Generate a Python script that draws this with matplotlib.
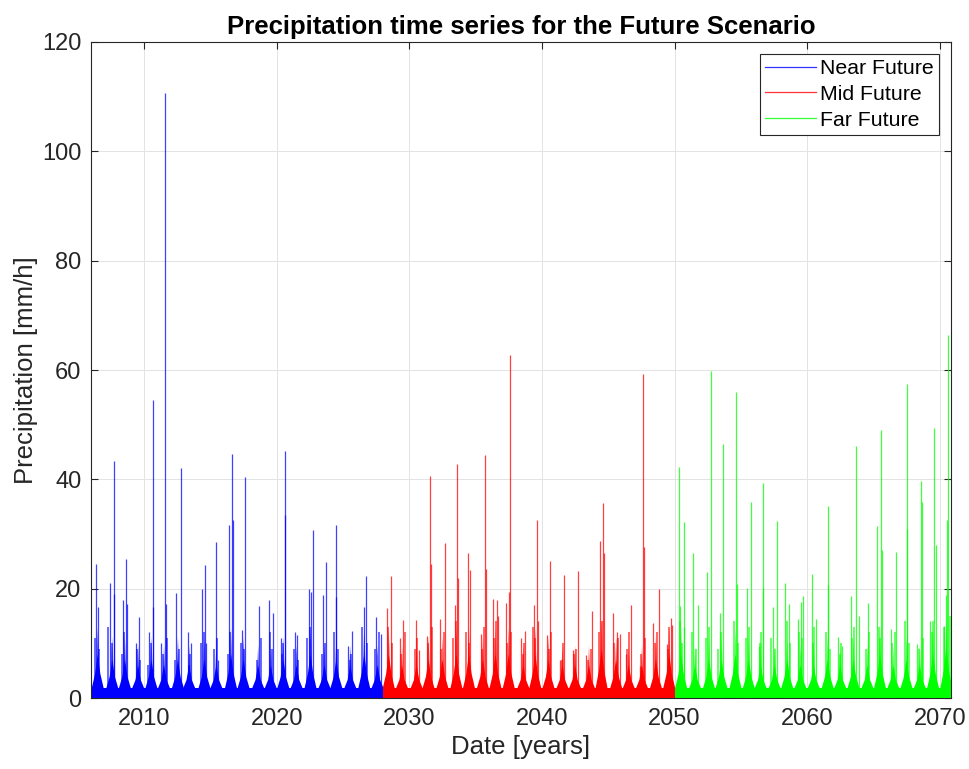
import numpy as np
import matplotlib
matplotlib.use("Agg")
import matplotlib.pyplot as plt

plt.rcParams["font.family"] = ["Liberation Sans", "DejaVu Sans"]

# period boundaries (decimal years)
near_span = (2006.0, 2028.0)
mid_span = (2028.0, 2050.0)
far_span = (2050.0, 2070.85)
base_level = 1.8   # persistent drizzle floor, mm/h

# storm peaks: (decimal year, mm/h)
near_t = [2006.4, 2006.5, 2007.4, 2007.7, 2007.75, 2008.4, 2008.6, 2008.7, 2009.4, 2009.6,
          2010.4, 2010.65, 2010.7, 2011.3, 2011.6, 2011.65, 2012.4, 2012.8, 2013.3, 2013.5,
          2014.4, 2014.6, 2014.7, 2015.4, 2015.6, 2016.4, 2016.65, 2016.7, 2017.4, 2017.6,
          2018.7, 2019.4, 2019.75, 2020.3, 2020.6, 2020.65, 2021.4, 2021.55, 2022.4, 2022.6,
          2022.7, 2023.5, 2023.75, 2024.45, 2024.5, 2025.4, 2025.7, 2026.55, 2026.7, 2027.5,
          2027.85]
near_p = [24.6, 16.7, 21.0, 43.4, 19.0, 17.9, 25.4, 17.2, 10.0, 14.8,
          12.0, 54.5, 16.7, 10.0, 110.7, 17.2, 19.2, 42.0, 12.0, 10.0,
          20.0, 24.4, 10.0, 28.6, 7.0, 31.7, 44.7, 32.5, 12.5, 40.5,
          16.8, 17.9, 15.5, 11.0, 45.2, 33.5, 12.0, 11.5, 20.0, 19.4,
          30.8, 18.8, 24.8, 18.4, 31.7, 9.5, 12.3, 16.7, 22.4, 14.8,
          11.7]

mid_t = [2028.3, 2028.6, 2029.3, 2029.55, 2030.5, 2030.7, 2031.3, 2031.55, 2031.6, 2032.3,
         2032.7, 2033.45, 2033.6, 2033.65, 2034.4, 2034.6, 2035.4, 2035.7, 2035.75, 2036.3,
         2036.6, 2036.7, 2037.3, 2037.6, 2037.55, 2038.45, 2038.75, 2039.4, 2039.6, 2039.7,
         2040.4, 2040.6, 2041.4, 2041.7, 2042.35, 2042.7, 2043.3, 2043.8, 2044.4, 2044.6,
         2044.7, 2045.35, 2045.65, 2045.9, 2046.35, 2046.7, 2047.4, 2047.65, 2047.7, 2048.4,
         2048.8, 2049.4, 2049.7, 2049.8]
mid_p = [16.4, 22.4, 11.0, 14.2, 14.2, 8.7, 11.3, 40.6, 24.5, 14.5,
         28.3, 17.0, 42.8, 22.0, 26.6, 23.5, 11.8, 44.4, 23.6, 18.2,
         18.0, 15.0, 17.3, 62.8, 19.4, 11.0, 12.3, 17.1, 32.6, 14.0,
         11.5, 25.1, 6.9, 22.5, 8.7, 23.3, 7.8, 15.9, 28.8, 35.7,
         26.5, 15.6, 12.1, 11.8, 8.1, 17.1, 5.8, 59.3, 27.7, 13.7,
         19.9, 9.9, 14.7, 13.3]

far_t = [2050.35, 2050.4, 2050.7, 2050.75, 2051.4, 2051.75, 2052.45, 2052.75, 2053.4, 2053.65,
         2054.6, 2054.7, 2055.5, 2055.75, 2056.35, 2056.65, 2056.7, 2057.4, 2057.7, 2058.35,
         2058.6, 2059.3, 2059.55, 2059.7, 2060.35, 2060.65, 2061.55, 2061.6, 2062.35, 2062.6,
         2063.3, 2063.65, 2063.9, 2064.6, 2065.3, 2065.6, 2065.65, 2066.3, 2066.7, 2067.5,
         2067.55, 2068.3, 2068.6, 2068.65, 2069.3, 2069.6, 2069.75, 2070.3, 2070.45, 2070.55,
         2070.65]
far_p = [42.3, 16.9, 32.2, 12.9, 26.5, 17.0, 23.0, 59.9, 15.6, 46.4,
         56.0, 20.9, 20.2, 35.9, 9.6, 39.4, 20.2, 16.7, 32.4, 21.0,
         17.2, 14.5, 17.5, 18.6, 22.6, 14.5, 35.2, 20.6, 11.2, 9.5,
         18.7, 46.1, 15.0, 17.3, 31.5, 49.1, 27.0, 12.7, 26.7, 57.5,
         31.0, 9.8, 39.7, 35.8, 14.1, 49.4, 27.9, 13.1, 18.8, 32.5,
         66.4]

# smaller showers inside each wet season
near_minor_t = [2006.3, 2006.6, 2007.3, 2007.55, 2008.3, 2008.5, 2009.45, 2009.7, 2010.3, 2010.55,
                2011.4, 2011.75, 2012.3, 2012.6, 2013.35, 2013.45, 2014.3, 2014.5, 2015.3, 2015.5,
                2016.3, 2016.5, 2017.3, 2017.5, 2018.5, 2018.8, 2019.5, 2019.65, 2020.4, 2020.5,
                2021.3, 2021.6, 2022.3, 2022.5, 2023.4, 2023.65, 2024.35, 2024.6, 2025.5, 2025.6,
                2026.45, 2026.8, 2027.4, 2027.7]
near_minor_p = [11, 9, 13, 10, 8, 12, 9, 7, 6, 10,
                8, 11, 7, 9, 6, 8, 10, 12, 9, 11,
                8, 12, 10, 9, 7, 11, 12, 9, 8, 10,
                9, 7, 11, 13, 8, 10, 12, 9, 7, 8,
                13, 10, 9, 12]
mid_minor_t = [2028.4, 2028.7, 2029.4, 2029.65, 2030.4, 2030.6, 2031.4, 2031.7, 2032.4, 2032.6,
               2033.3, 2033.5, 2034.3, 2034.5, 2035.5, 2035.6, 2036.4, 2036.5, 2037.4, 2037.7,
               2038.55, 2038.65, 2039.3, 2039.5, 2040.5, 2040.7, 2041.5, 2041.6, 2042.45, 2042.6,
               2043.45, 2043.7, 2044.3, 2044.5, 2045.45, 2045.75, 2046.45, 2046.6, 2047.5, 2047.8,
               2048.5, 2048.7, 2049.5, 2049.6]
mid_minor_p = [13, 10, 8, 12, 9, 11, 10, 13, 9, 12,
               11, 14, 12, 10, 9, 13, 11, 14, 10, 12,
               8, 10, 13, 11, 9, 12, 7, 10, 8, 9,
               7, 9, 12, 14, 10, 11, 9, 12, 8, 11,
               10, 12, 9, 13]
far_minor_t = [2050.45, 2050.6, 2051.3, 2051.6, 2052.35, 2052.6, 2053.3, 2053.5, 2054.45, 2054.8,
               2055.4, 2055.6, 2056.45, 2056.55, 2057.3, 2057.55, 2058.45, 2058.7, 2059.4, 2059.6,
               2060.45, 2060.55, 2061.4, 2061.7, 2062.45, 2062.55, 2063.4, 2063.55, 2064.45, 2064.7,
               2065.4, 2065.5, 2066.4, 2066.6, 2067.4, 2067.65, 2068.45, 2068.75, 2069.4, 2069.5,
               2070.35, 2070.75]
far_minor_p = [14, 10, 12, 9, 11, 13, 9, 12, 14, 10,
               11, 13, 10, 12, 11, 9, 14, 10, 12, 11,
               10, 13, 12, 9, 8, 10, 11, 13, 9, 12,
               13, 11, 10, 12, 14, 10, 9, 11, 12, 14,
               13, 15]

# wet-season envelopes: (season centre, typical hourly level, mm/h)
near_season_t = [2006.5, 2007.6, 2008.55, 2009.55, 2010.55, 2011.5, 2012.55, 2013.4, 2014.55,
                 2015.45, 2016.55, 2017.5, 2018.6, 2019.55, 2020.5, 2021.5, 2022.55, 2023.6,
                 2024.5, 2025.55, 2026.6, 2027.6]
near_season_p = [8, 7, 7, 6, 7, 6, 7, 6, 7, 6, 8, 7, 6, 6, 7, 6, 8, 6, 7, 6, 8, 6]
mid_season_t = [2028.45, 2029.45, 2030.55, 2031.45, 2032.5, 2033.55, 2034.5, 2035.55, 2036.5,
                2037.5, 2038.6, 2039.5, 2040.5, 2041.55, 2042.5, 2043.55, 2044.5, 2045.6,
                2046.55, 2047.55, 2048.6, 2049.6]
mid_season_p = [8, 6, 6, 7, 7, 8, 8, 7, 8, 8, 6, 8, 7, 6, 6, 6, 9, 7, 6, 6, 7, 8]
far_season_t = [2050.5, 2051.55, 2052.6, 2053.55, 2054.6, 2055.6, 2056.5, 2057.55, 2058.5,
                2059.5, 2060.5, 2061.55, 2062.5, 2063.5, 2064.55, 2065.5, 2066.5, 2067.5,
                2068.5, 2069.5, 2070.5]
far_season_p = [8, 6, 7, 7, 8, 7, 6, 6, 7, 6, 6, 7, 6, 7, 6, 8, 6, 7, 6, 8, 9]

series = [
    ("Near Future", (0, 0, 1), near_span, near_t, near_p, near_minor_t, near_minor_p,
     near_season_t, near_season_p),
    ("Mid Future", (1, 0, 0), mid_span, mid_t, mid_p, mid_minor_t, mid_minor_p,
     mid_season_t, mid_season_p),
    ("Far Future", (0, 1, 0), far_span, far_t, far_p, far_minor_t, far_minor_p,
     far_season_t, far_season_p),
]

fig = plt.figure(figsize=(9.69, 7.69), dpi=100)
ax = fig.add_axes([0.094, 0.0923, 0.8874, 0.8531])

for name, col, span, tt, pp, mt, mp, st, sp in series:
    # drizzle floor over the whole period
    ax.fill_between(span, 0, base_level, color=col, lw=0, zorder=2)
    # wet-season bulk as peaked envelopes
    for c, h in zip(st, sp):
        ax.fill([c - 0.45, c - 0.2, c, c + 0.2, c + 0.45],
                [base_level, h * 0.55, h, h * 0.55, base_level], color=col, lw=0, zorder=2)
        ax.fill([c - 0.18, c, c + 0.18], [0, h * 1.6, 0], color=col, lw=0, alpha=0.6, zorder=2)
    # individual storm hours
    ax.vlines(mt, 0, mp, colors=[col], linewidth=1.1, alpha=0.75, zorder=3)
    ax.vlines(tt, 0, pp, colors=[col], linewidth=0.9, alpha=0.75, zorder=3)
    ax.plot([], [], color=col, lw=0.9, alpha=0.8, label=name)

ax.set_xlim(2006.0, 2070.85)
ax.set_ylim(0, 120)
ax.set_xticks(range(2010, 2071, 10))
ax.set_yticks(range(0, 121, 20))
ax.grid(True, color="#e3e3e3", linewidth=0.7)
ax.set_axisbelow(True)
ax.tick_params(direction="in", length=5, width=0.8, labelsize=17, colors="#262626",
               top=True, right=True, pad=7)
for s in ax.spines.values():
    s.set_linewidth(0.8)
    s.set_color("#262626")

ax.set_xlabel("Date [years]", fontsize=18.5, color="#262626", labelpad=4)
ax.set_ylabel("Precipitation [mm/h]", fontsize=18.5, color="#262626", labelpad=3)
ax.set_title("Precipitation time series for the Future Scenario", fontsize=18.5,
             fontweight="bold", pad=6)

leg = ax.legend(loc="upper right", fontsize=15.3, fancybox=False, framealpha=1,
                edgecolor="#262626", handlelength=2.4, handletextpad=0.2,
                borderpad=0.25, labelspacing=0.32, borderaxespad=0.55)
leg.get_frame().set_linewidth(0.8)

fig.savefig("out.png", dpi=100)
